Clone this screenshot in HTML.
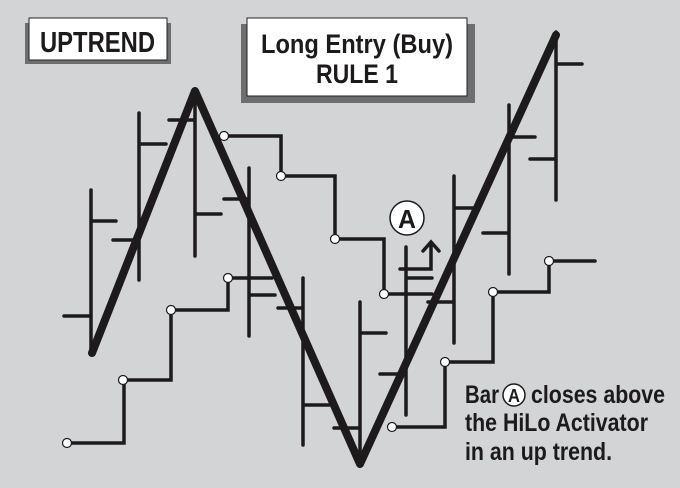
<!DOCTYPE html>
<html><head><meta charset="utf-8"><style>
html,body{margin:0;padding:0;background:#d3d4d6;}
svg{display:block;}
text{font-family:"Liberation Sans",sans-serif;font-weight:bold;fill:#1c1a1b;}
</style></head><body>
<svg width="680" height="488" viewBox="0 0 680 488" xmlns="http://www.w3.org/2000/svg">
<rect width="680" height="488" fill="#d3d4d6"/>
<!-- boxes -->
<rect x="25" y="23" width="146" height="41" fill="#6e6e70"/>
<rect x="29" y="18" width="138" height="42" fill="#fff" stroke="#222" stroke-width="1"/>
<text x="40" y="52" font-size="29" textLength="115" lengthAdjust="spacingAndGlyphs">UPTREND</text>
<rect x="241" y="24" width="234" height="79" fill="#6e6e70"/>
<rect x="247" y="18" width="220" height="78" fill="#fff" stroke="#222" stroke-width="1"/>
<text x="261" y="53" font-size="27" textLength="192" lengthAdjust="spacingAndGlyphs">Long Entry (Buy)</text>
<text x="316" y="83" font-size="27" textLength="82" lengthAdjust="spacingAndGlyphs">RULE 1</text>

<g stroke="#1c1a1b" stroke-width="3.5" fill="none" stroke-linecap="round">
<path d="M91 190V354 M64 316H91 M91 221H116"/>
<path d="M139 113V280 M113 240H139 M139 144H166"/>
<path d="M195 90V256 M169 120H195 M195 214H221"/>
<path d="M249 168V336 M224 199H249 M249 295H275"/>
<path d="M303 278V445 M278 308H303 M303 405H329"/>
<path d="M360 302V462 M360 333H386 M334 428H360"/>
<path d="M406 247V415 M380 374H406 M406 278H432"/>
<path d="M454 176V343 M454 208H475 M428 302H454"/>
<path d="M509 105V274 M509 137H535 M483 233H509"/>
<path d="M556 32V200 M556 64H582 M530 159H556"/>
<path d="M400 269H431V243 M423 251L431 242L439 251"/>
<path d="M67 443H124V380H171V310H228V278H272"/>
<path d="M224 136H281V176H335V239H384V294H432"/>
<path d="M392 427H445V362H493V292H549V261H595"/>
</g>
<path d="M92 353L195 91L360 464L556 35" stroke="#1c1a1b" stroke-width="8" fill="none" stroke-linejoin="round" stroke-linecap="round"/>
<g fill="#fff" stroke="#1c1a1b" stroke-width="1.2">
<circle cx="67" cy="443" r="4.5"/><circle cx="123" cy="380" r="4.5"/><circle cx="171" cy="310" r="4.5"/><circle cx="228" cy="278" r="4.5"/>
<circle cx="224" cy="136" r="4.5"/><circle cx="281" cy="176" r="4.5"/><circle cx="335" cy="239" r="4.5"/><circle cx="384" cy="294" r="4.5"/>
<circle cx="392" cy="427" r="4.5"/><circle cx="445" cy="362" r="4.5"/><circle cx="493" cy="292" r="4.5"/><circle cx="549" cy="261" r="4.5"/>
</g>
<circle cx="407" cy="218" r="17" fill="#fff" stroke="#1c1a1b" stroke-width="1.5"/>
<text x="407" y="228" font-size="26" text-anchor="middle" textLength="18" lengthAdjust="spacingAndGlyphs">A</text>
<text x="465" y="403" font-size="25" textLength="34" lengthAdjust="spacingAndGlyphs">Bar</text>
<circle cx="514" cy="395" r="11" fill="#fff" stroke="#1c1a1b" stroke-width="1.5"/>
<text x="514" y="402" font-size="18" text-anchor="middle" textLength="12" lengthAdjust="spacingAndGlyphs">A</text>
<text x="531" y="403" font-size="25" textLength="134" lengthAdjust="spacingAndGlyphs">closes above</text>
<text x="465" y="431" font-size="25" textLength="183" lengthAdjust="spacingAndGlyphs">the HiLo Activator</text>
<text x="465" y="460" font-size="25" textLength="147" lengthAdjust="spacingAndGlyphs">in an up trend.</text>
</svg>
</body></html>
